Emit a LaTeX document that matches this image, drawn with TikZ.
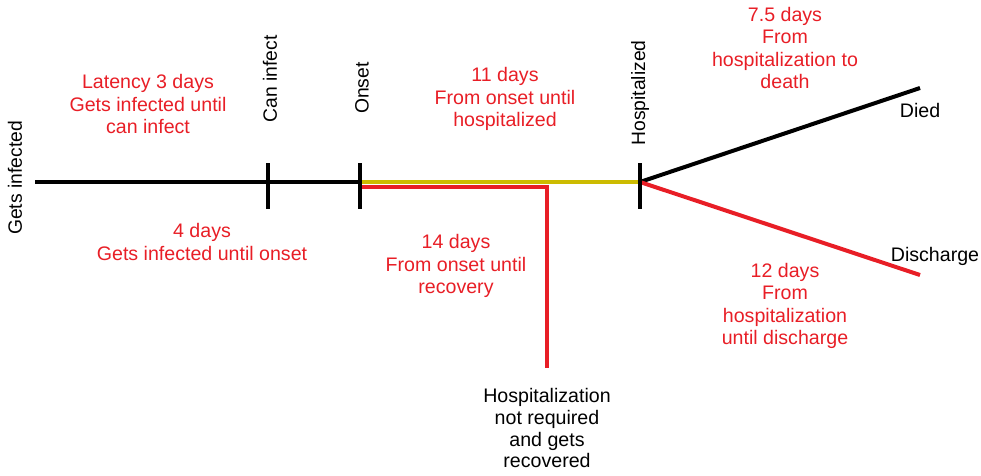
\documentclass[tikz,border=0pt]{standalone}
\usepackage{fontspec}
\setmainfont{Liberation Sans}
\usepackage{xcolor}
\usetikzlibrary{positioning}

\definecolor{notered}{RGB}{232,30,38}
\definecolor{spanyellow}{RGB}{204,187,0}

\begin{document}
\begin{tikzpicture}[
    x=1pt, y=-1pt,
    event/.style={rotate=90, inner sep=0pt, font=\fontsize{19.3}{22}\selectfont},
    note/.style={text=notered, align=center, inner sep=0pt, font=\fontsize{19.6}{22.5}\selectfont},
    outcome/.style={align=center, inner sep=0pt, font=\fontsize{19.6}{21.8}\selectfont},
    track/.style={line width=4pt},
    tickmark/.style={line width=3.5pt}
]
\useasboundingbox (0,0) rectangle (981,475);

% Points on the timeline
\coordinate (start) at (35,182);
\coordinate (infect) at (268,182);
\coordinate (onset) at (360,182);
\coordinate (hosp) at (640,182);
\coordinate (died) at (920,88);
\coordinate (disch) at (920,275);
\coordinate (redstart) at (362,186.5);
\coordinate (turn) at (547,186.5);
\coordinate (recov) at (547,368);

% Lines
\draw[track] (start) -- (onset);
\draw[track, spanyellow] (onset) -- (hosp);
\draw[track, notered] (redstart) -- (turn) -- (recov);
\draw[track] (hosp) -- (died);
\draw[track, notered] (hosp) -- (disch);
\foreach \p in {infect,onset,hosp}
    \draw[tickmark] (\p) ++(0,-19) -- ++(0,46);

% Events
\node[event] (gets) at (15,178) {Gets infected};
\node[event] (can) at (270,79) {Can infect};
\node[event] (ons) at (362,88) {Onset};
\node[event] (hos) at (640,93) {Hospitalized};
\node[outcome] (diedlbl) at (920,110) {Died};
\node[outcome] (dischlbl) at (935,256) {Discharge};

% Durations
\node[note] (latency) at (148,104) {Latency 3 days\\Gets infected until\\can infect};
\node[note] (fourdays) at (202,242) {4 days\\Gets infected until onset};
\node[note] (elevendays) at (505,99) {11 days\\From onset until\\hospitalized};
\node[note] (fourteendays) at (456,266) {14 days\\From onset until\\recovery};
\node[note] (sevendays) at (785,48) {7.5 days\\From\\hospitalization to\\death};
\node[note] (twelvedays) at (785,306) {12 days\\From\\hospitalization\\until discharge};

% Outcome without hospital
\node[outcome, below=20pt of recov] (notreq) {Hospitalization\\not required\\and gets\\recovered};

\end{tikzpicture}
\end{document}
